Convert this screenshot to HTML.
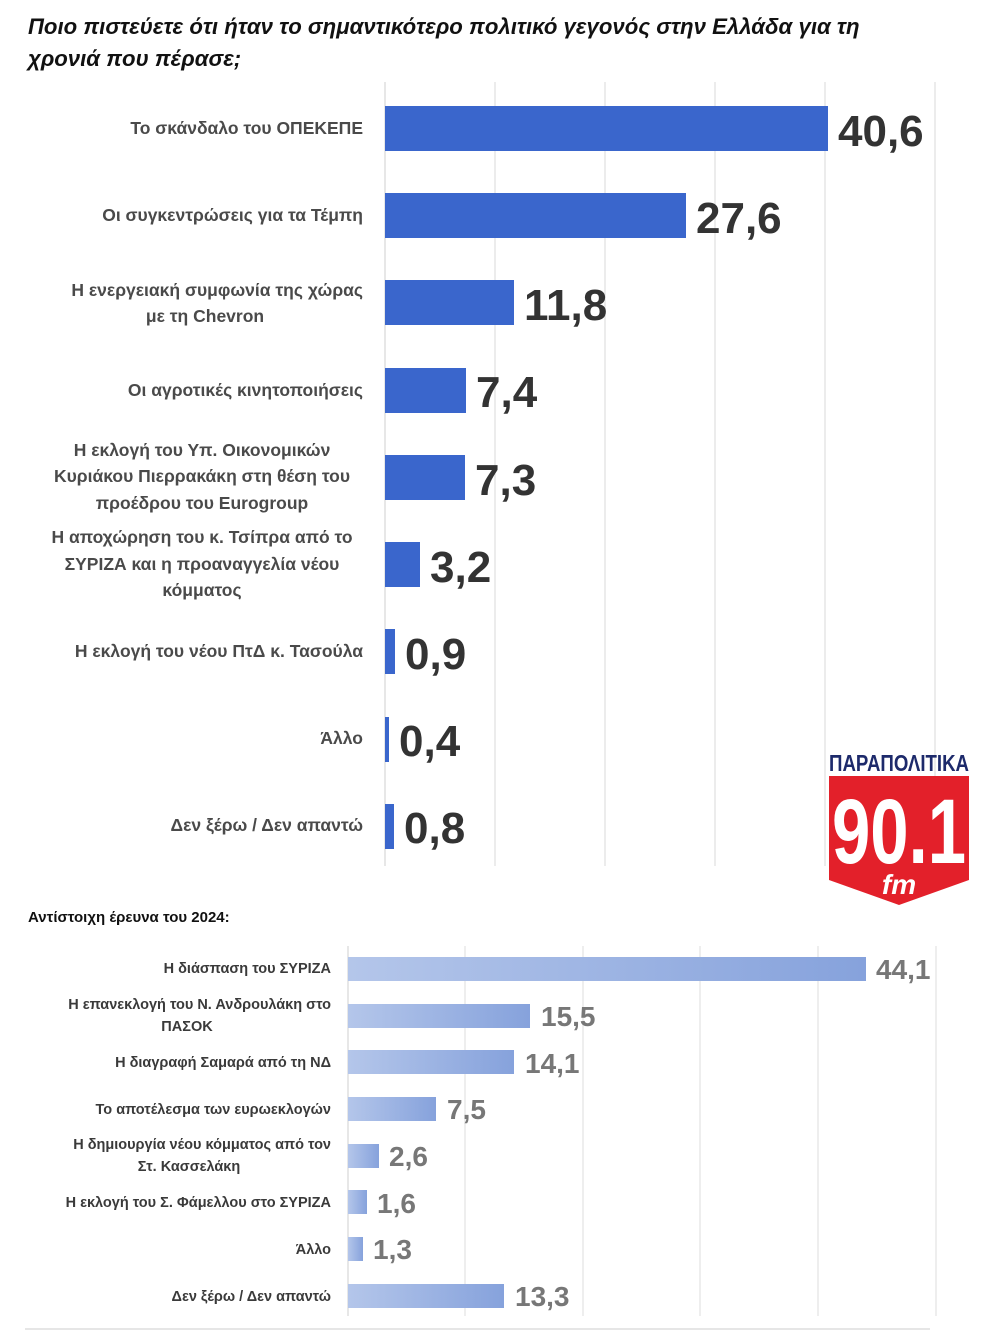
<!DOCTYPE html>
<html><head><meta charset="utf-8"><style>
body{margin:0;width:990px;height:1335px;background:#fff;overflow:hidden;font-family:"Liberation Sans","DejaVu Sans",sans-serif;}
svg{display:block}
</style></head><body>
<svg width="990" height="1335" viewBox="0 0 990 1335" xmlns="http://www.w3.org/2000/svg">
<defs>
<linearGradient id="g2" x1="0" x2="1" y1="0" y2="0">
<stop offset="0" stop-color="#b4c6ea"/><stop offset="1" stop-color="#86a2dc"/>
</linearGradient>
</defs>
<g font-family="Liberation Sans, DejaVu Sans, sans-serif" font-style="italic" font-weight="bold" font-size="22.2" fill="#111">
<text x="28" y="34">Ποιο πιστεύετε ότι ήταν το σημαντικότερο πολιτικό γεγονός στην Ελλάδα για τη</text>
<text x="28" y="66">χρονιά που πέρασε;</text>
</g>
<g stroke="#d9d9d9" stroke-width="1">
<line x1="495" y1="82" x2="495" y2="866"/><line x1="605" y1="82" x2="605" y2="866"/>
<line x1="715" y1="82" x2="715" y2="866"/><line x1="825" y1="82" x2="825" y2="866"/>
<line x1="935" y1="82" x2="935" y2="866"/>
</g>
<line x1="385" y1="82" x2="385" y2="866" stroke="#cfcfcf"/>
<g fill="#3a66cc">
<rect x="385" y="106" width="443" height="45"/>
<rect x="385" y="193" width="301" height="45"/>
<rect x="385" y="280" width="129" height="45"/>
<rect x="385" y="368" width="81" height="45"/>
<rect x="385" y="455" width="80" height="45"/>
<rect x="385" y="542" width="35" height="45"/>
<rect x="385" y="629" width="10" height="45"/>
<rect x="385" y="717" width="4" height="45"/>
<rect x="385" y="804" width="9" height="45"/>
</g>
<g font-weight="bold" font-size="44" fill="#333">
<text x="838" y="146">40,6</text><text x="696" y="233">27,6</text>
<text x="524" y="320">11,8</text><text x="476" y="407">7,4</text>
<text x="475" y="495">7,3</text><text x="430" y="582">3,2</text>
<text x="405" y="669">0,9</text><text x="399" y="756">0,4</text>
<text x="404" y="843">0,8</text>
</g>
<g font-size="17.5" font-weight="bold" fill="#4a4a4a" text-anchor="end">
<text x="363" y="134">Το σκάνδαλο του ΟΠΕΚΕΠΕ</text>
<text x="363" y="221">Οι συγκεντρώσεις για τα Τέμπη</text>
<text x="363" y="296">Η ενεργειακή συμφωνία της χώρας</text>
<text x="205" y="322" text-anchor="middle">με τη Chevron</text>
<text x="202" y="456" text-anchor="middle">Η εκλογή του Υπ. Οικονομικών</text>
<text x="202" y="482" text-anchor="middle">Κυριάκου Πιερρακάκη στη θέση του</text>
<text x="202" y="509" text-anchor="middle">προέδρου του Eurogroup</text>
<text x="202" y="543" text-anchor="middle">Η αποχώρηση του κ. Τσίπρα από το</text>
<text x="202" y="570" text-anchor="middle">ΣΥΡΙΖΑ και η προαναγγελία νέου</text>
<text x="202" y="596" text-anchor="middle">κόμματος</text>
<text x="363" y="396">Οι αγροτικές κινητοποιήσεις</text>
<text x="363" y="657">Η εκλογή του νέου ΠτΔ κ. Τασούλα</text>
<text x="363" y="744">Άλλο</text>
<text x="363" y="831">Δεν ξέρω / Δεν απαντώ</text>
</g>
<text x="899" y="771" font-size="23" font-weight="bold" fill="#1d2a6b" text-anchor="middle" textLength="140" lengthAdjust="spacingAndGlyphs">ΠΑΡΑΠΟΛΙΤΙΚΑ</text>
<polygon points="829,776 969,776 969,880 899,905 829,880" fill="#e3202a"/>
<text x="899" y="863" font-size="92" font-weight="bold" fill="#fff" text-anchor="middle" textLength="134" lengthAdjust="spacingAndGlyphs">90.1</text>
<text x="899" y="894" font-size="28" font-weight="bold" font-style="italic" fill="#fff" text-anchor="middle">fm</text>
<text x="28" y="922" font-size="15" font-weight="bold" fill="#111">Αντίστοιχη έρευνα του 2024:</text>
<g stroke="#dcdcdc">
<line x1="465" y1="946" x2="465" y2="1316"/><line x1="583" y1="946" x2="583" y2="1316"/>
<line x1="700" y1="946" x2="700" y2="1316"/><line x1="818" y1="946" x2="818" y2="1316"/>
<line x1="936" y1="946" x2="936" y2="1316"/>
</g>
<line x1="348" y1="946" x2="348" y2="1316" stroke="#cfcfcf"/>
<g fill="url(#g2)">
<rect x="348" y="957" width="518" height="24"/>
<rect x="348" y="1004" width="182" height="24"/>
<rect x="348" y="1050" width="166" height="24"/>
<rect x="348" y="1097" width="88" height="24"/>
<rect x="348" y="1144" width="31" height="24"/>
<rect x="348" y="1190" width="19" height="24"/>
<rect x="348" y="1237" width="15" height="24"/>
<rect x="348" y="1284" width="156" height="24"/>
</g>
<g font-weight="bold" font-size="28" fill="#777">
<text x="876" y="979">44,1</text><text x="541" y="1026">15,5</text>
<text x="525" y="1073">14,1</text><text x="447" y="1119">7,5</text>
<text x="389" y="1166">2,6</text><text x="377" y="1213">1,6</text>
<text x="373" y="1259">1,3</text><text x="515" y="1306">13,3</text>
</g>
<g font-size="14.5" font-weight="bold" fill="#3a3a3a" text-anchor="end">
<text x="331" y="973">Η διάσπαση του ΣΥΡΙΖΑ</text>
<text x="331" y="1009">Η επανεκλογή του Ν. Ανδρουλάκη στο</text>
<text x="187" y="1031" text-anchor="middle">ΠΑΣΟΚ</text>
<text x="331" y="1067">Η διαγραφή Σαμαρά από τη ΝΔ</text>
<text x="331" y="1114">Το αποτέλεσμα των ευρωεκλογών</text>
<text x="331" y="1149">Η δημιουργία νέου κόμματος από τον</text>
<text x="189" y="1171" text-anchor="middle">Στ. Κασσελάκη</text>
<text x="331" y="1207">Η εκλογή του Σ. Φάμελλου στο ΣΥΡΙΖΑ</text>
<text x="331" y="1254">Άλλο</text>
<text x="331" y="1301">Δεν ξέρω / Δεν απαντώ</text>
</g>
<line x1="25" y1="1329" x2="930" y2="1329" stroke="#e6e6e6" stroke-width="2"/>
</svg>
</body></html>
